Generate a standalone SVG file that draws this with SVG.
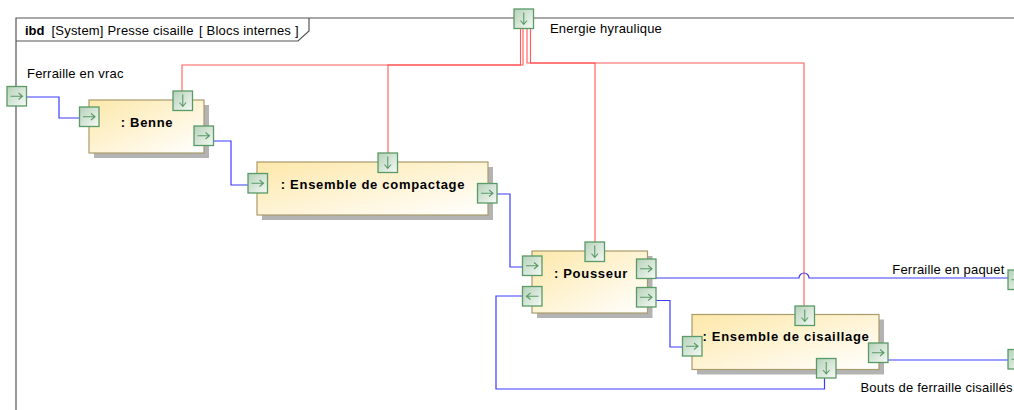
<svg xmlns="http://www.w3.org/2000/svg" xmlns:xlink="http://www.w3.org/1999/xlink" width="1014" height="410" viewBox="0 0 1014 410">
<style>
text{font-family:"Liberation Sans",Arial,sans-serif;fill:#000}
.lbl{font-size:13px;letter-spacing:0.2px}
.bt{font-size:13px;font-weight:bold;letter-spacing:0.7px;text-anchor:middle}
.frame{fill:none;stroke:#555;stroke-width:1.2}
.blk{fill:url(#gBlk);stroke:#A89B6C;stroke-width:1.2}
.shd{fill:#B3B3B3}
.prt{fill:url(#gPort);stroke:#5A9A66;stroke-width:1.3}
.arr{fill:none;stroke:#5A9A66;stroke-width:1.1}
.blue{fill:none;stroke:#3C3CFF;stroke-width:1.2}
.red{fill:none;stroke:#FF3030;stroke-width:1.1;stroke-opacity:0.8}
</style>
<defs>
<linearGradient id="gBlk" x1="0" y1="0" x2="1" y2="1">
<stop offset="0" stop-color="#FDE8AA"/>
<stop offset="1" stop-color="#FFFFFF"/>
</linearGradient>
<linearGradient id="gPort" x1="0" y1="0" x2="1" y2="1">
<stop offset="0" stop-color="#B5D1B9"/>
<stop offset="1" stop-color="#F6FAF6"/>
</linearGradient>
<g id="portR"><rect class="prt" x="0" y="0" width="19.5" height="19.5"/><path class="arr" d="M3.5,9.75 H15.5 M11.5,6.5 L15.5,9.75 L11.5,13"/></g>
<g id="portL"><rect class="prt" x="0" y="0" width="19.5" height="19.5"/><path class="arr" d="M16,9.75 H4 M8,6.5 L4,9.75 L8,13"/></g>
<g id="portD"><rect class="prt" x="0" y="0" width="19.5" height="19.5"/><path class="arr" d="M9.75,3.5 V15.5 M6.5,11.5 L9.75,15.5 L13,11.5"/></g>
</defs>
<rect x="0" y="0" width="1014" height="410" fill="#FFFFFF"/>
<g id="frame">
<path class="frame" d="M16,410 V18 H1014"/>
<path class="frame" d="M16,41 H298 L309,31 V18"/>
<text x="25" y="35" style="font-size:13px;font-weight:bold">ibd</text>
<text x="51.5" y="35" class="lbl">[System] Presse cisaille</text>
<text x="199" y="35" class="lbl">[ Blocs internes ]</text>
</g>
<g id="connectors">
<path class="blue" d="M26,97 H59 V118 H80"/>
<path class="blue" d="M213,141 H231 V185 H248"/>
<path class="blue" d="M497,194 H510 V267 H522.5"/>
<path class="blue" d="M656,278 H799 A5,5 0 0 1 809,278 H1008"/>
<path class="blue" d="M656,300.5 H670 V347 H682.5"/>
<path class="blue" d="M824.5,378 V389 H496 V296 H522.5"/>
<path class="blue" d="M888,360 H1008"/>
<path class="red" d="M520.5,28.5 V65 H182 V91"/>
<path class="red" d="M523,28.5 V65 H388 V153"/>
<path class="red" d="M527,28.5 V63 H595 V242"/>
<path class="red" d="M530.5,28.5 V63 H804 V306"/>
</g>
<g id="energie">
<use xlink:href="#portD" href="#portD" x="514" y="9"/>
<text x="550" y="33" class="lbl">Energie hyraulique</text>
</g>
<g id="ferraille-vrac">
<use xlink:href="#portR" href="#portR" x="7" y="86.5"/>
<text x="27" y="78" class="lbl">Ferraille en vrac</text>
</g>
<g id="ferraille-paquet">
<use xlink:href="#portR" href="#portR" x="1008" y="270"/>
<text x="1004.5" y="273.5" class="lbl" text-anchor="end">Ferraille en paquet</text>
</g>
<g id="bouts">
<use xlink:href="#portR" href="#portR" x="1008" y="349.5"/>
<text x="860.5" y="391.5" class="lbl">Bouts de ferraille cisaillés</text>
</g>
<g id="benne">
<rect class="shd" x="94" y="105" width="115" height="53"/>
<rect class="blk" x="89" y="100" width="115" height="53"/>
<text x="147" y="127" class="bt">: Benne</text>
<use xlink:href="#portR" href="#portR" x="79.5" y="107"/>
<use xlink:href="#portD" href="#portD" x="173" y="91"/>
<use xlink:href="#portR" href="#portR" x="194" y="126"/>
</g>
<g id="compactage">
<rect class="shd" x="262" y="167" width="231" height="53"/>
<rect class="blk" x="257" y="162" width="231" height="53"/>
<text x="373" y="189" class="bt">: Ensemble de compactage</text>
<use xlink:href="#portR" href="#portR" x="248" y="173.5"/>
<use xlink:href="#portD" href="#portD" x="378" y="153"/>
<use xlink:href="#portR" href="#portR" x="477.5" y="183.5"/>
</g>
<g id="pousseur">
<rect class="shd" x="537" y="256" width="115.5" height="62"/>
<rect class="blk" x="532" y="251" width="115.5" height="62"/>
<text x="591" y="278" class="bt">: Pousseur</text>
<use xlink:href="#portR" href="#portR" x="522.5" y="256"/>
<use xlink:href="#portL" href="#portL" x="522.5" y="286.5"/>
<use xlink:href="#portD" href="#portD" x="585" y="242"/>
<use xlink:href="#portR" href="#portR" x="636.5" y="259"/>
<use xlink:href="#portR" href="#portR" x="636.5" y="287.5"/>
</g>
<g id="cisaillage">
<rect class="shd" x="697" y="319.5" width="187" height="55"/>
<rect class="blk" x="692" y="314.5" width="187" height="55"/>
<text x="786" y="341" class="bt">: Ensemble de cisaillage</text>
<use xlink:href="#portR" href="#portR" x="682.5" y="336.5"/>
<use xlink:href="#portD" href="#portD" x="795" y="306"/>
<use xlink:href="#portR" href="#portR" x="868.5" y="343"/>
<use xlink:href="#portD" href="#portD" x="816.5" y="358.5"/>
</g>
</svg>
